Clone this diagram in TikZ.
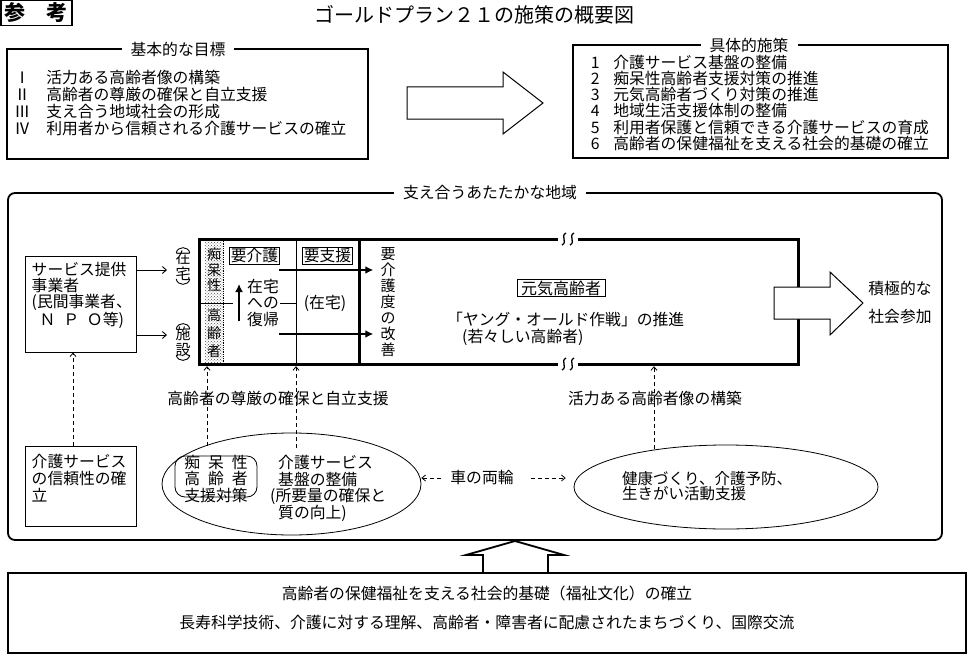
\documentclass[tikz,border=0pt]{standalone}
\usepackage{fontspec}
\setmainfont{Noto Sans CJK JP}
\usepackage{xcolor}
\usepackage{tikz}
\usetikzlibrary{
    shapes.geometric,
    arrows.meta,
    positioning,
    patterns,
    calc
}

\newcommand{\bodyFont}{\fontsize{15.8}{17}\selectfont}
\newcommand{\goalNo}[1]{\makebox[14pt][c]{#1}\hspace{17pt}}
\newcommand{\stepNo}[1]{\makebox[10pt][c]{#1}\hspace{13pt}}
\newcommand{\breakMark}[1]{%
    \draw[line width=1.3pt] ($(#1)+(-2,-6)$) .. controls ($(#1)+(-8,-3)$) and ($(#1)+(0,3)$) .. ($(#1)+(-6,6)$);
    \draw[line width=1.3pt] ($(#1)+(6,-6)$) .. controls ($(#1)+(0,-3)$) and ($(#1)+(8,3)$) .. ($(#1)+(2,6)$);
}
% vertical parentheses round a column of text
\newcommand{\vertParens}[1]{%
    \draw[line width=0.9pt] ($(#1.north west)+(1,4)$) .. controls ($(#1.north west)+(2,-3)$) and ($(#1.north east)+(-2,-3)$) .. ($(#1.north east)+(-1,4)$);
    \draw[line width=0.9pt] ($(#1.south west)+(1,-4)$) .. controls ($(#1.south west)+(2,3)$) and ($(#1.south east)+(-2,3)$) .. ($(#1.south east)+(-1,-4)$);
}

\begin{document}
\begin{tikzpicture}[
    x=1pt, y=-1pt,
    every node/.style={font=\bodyFont},
    frameBox/.style={
        rectangle, draw=black, line width=1.8pt, inner sep=0pt
    },
    plainBox/.style={
        rectangle, draw=black, line width=1pt, inner sep=0pt
    },
    frameTitle/.style={
        fill=white, inner xsep=9pt, inner ysep=0pt
    },
    listText/.style={
        anchor=north west, align=left, inner sep=0pt
    },
    tagBox/.style={
        rectangle, draw=black, line width=0.8pt, inner xsep=1.5pt, inner ysep=1pt
    },
    vertText/.style={
        align=center, inner sep=0pt, font=\fontsize{15}{16}\selectfont
    },
    ringShape/.style={
        ellipse, draw=black, line width=0.8pt, inner sep=0pt
    },
    heavyLine/.style={line width=3pt, line join=miter},
    thinLine/.style={line width=0.9pt},
    thinArrow/.style={-{Straight Barb[length=4pt, width=7pt]}, line width=0.9pt},
    dashArrow/.style={
        -{Straight Barb[length=3.5pt, width=6pt]}, line width=0.8pt,
        dash pattern=on 4pt off 3pt
    },
    boldArrow/.style={-{Latex[length=8pt, width=8pt]}, line width=2.2pt},
    blockArrow/.style={draw=black, fill=white, line width=1pt, line join=miter}
]
    \useasboundingbox (0,0) rectangle (975,661);

    % Heading
    \node[plainBox, line width=1.2pt, minimum width=71pt, minimum height=25pt,
          font=\fontsize{21}{21}\selectfont\bfseries] (sankoBox) at (36.5,13) {参\hspace{1em}考};
    \node[inner sep=0pt, font=\fontsize{20}{20}\selectfont] (mainTitle) at (474,15) {ゴールドプラン２１の施策の概要図};

    % Basic goals
    \node[frameBox, minimum width=361pt, minimum height=110pt] (goalsBox) at (187.5,104) {};
    \node[frameTitle] (goalsTitle) at (178,49) {基本的な目標};
    \node[listText, font=\fontsize{15.8}{17}\selectfont] (goalsList) at ([xshift=9pt, yshift=-22pt]goalsBox.north west) {%
        \goalNo{Ⅰ}活力ある高齢者像の構築\\
        \goalNo{Ⅱ}高齢者の尊厳の確保と自立支援\\
        \goalNo{Ⅲ}支え合う地域社会の形成\\
        \goalNo{Ⅳ}利用者から信頼される介護サービスの確立};

    % Arrow from goals to measures
    \draw[blockArrow] (407,87) -- (503,87) -- (503,72) -- (543,103) -- (503,134) -- (503,119) -- (407,119) -- cycle;

    % Concrete measures
    \node[frameBox, minimum width=375pt, minimum height=113pt] (measuresBox) at (760.5,101.5) {};
    \node[frameTitle] (measuresTitle) at (749,45) {具体的施策};
    \node[listText, font=\fontsize{15.8}{16.1}\selectfont] (measuresList) at ([xshift=18pt, yshift=-11pt]measuresBox.north west) {%
        \stepNo{1}介護サービス基盤の整備\\
        \stepNo{2}痴呆性高齢者支援対策の推進\\
        \stepNo{3}元気高齢者づくり対策の推進\\
        \stepNo{4}地域生活支援体制の整備\\
        \stepNo{5}利用者保護と信頼できる介護サービスの育成\\
        \stepNo{6}高齢者の保健福祉を支える社会的基礎の確立};

    % Community frame
    \node[frameBox, rounded corners=7pt, minimum width=934pt, minimum height=347pt] (regionBox) at (475,366.5) {};
    \node[frameTitle] (regionTitle) at (490,193) {支え合うあたたかな地域};

    % Service providers
    \node[plainBox, minimum width=111pt, minimum height=96pt] (providerBox) at (80.5,304) {};
    \node[listText, font=\fontsize{15.8}{16}\selectfont] (providerText) at ([xshift=7pt, yshift=-7pt]providerBox.north west) {%
        サービス提供\\
        事業者\\
        (民間事業者、\\
        \hspace*{0.5em}Ｎ\hspace{0.5em}Ｐ\hspace{0.5em}Ｏ等)};
    \node[vertText, inner ysep=2pt] (zaitakuV) at (183,266) {在\\宅};
    \node[vertText, inner ysep=2pt] (shisetsuV) at (183,342) {施\\設};
    \vertParens{zaitakuV}
    \vertParens{shisetsuV}
    \coordinate (homeIn) at (167,270);
    \coordinate (facilityIn) at (167,335);
    \draw[thinArrow] (providerBox.east |- homeIn) -- (homeIn);
    \draw[thinArrow] (providerBox.east |- facilityIn) -- (facilityIn);

    % Care level box
    \node[minimum width=599pt, minimum height=125pt, inner sep=0pt] (careBox) at (498.5,301.5) {};
    \fill[pattern=crosshatch dots, pattern color=black!70] (205,239) rectangle (223,364);
    \draw[densely dotted, line width=0.8pt] (223,239) -- (223,364);
    \draw[thinLine] (199,303) -- (233,303);
    \draw[thinLine] (280,303) -- (296,303);
    \draw[thinLine] (296,239) -- (296,364);
    \draw[heavyLine] (359,239) -- (359,364);
    \draw[heavyLine] (558,239) -| (199,364) -- (558,364);
    \draw[heavyLine] (578,239) -| (798,364) -- (578,364);
    \coordinate (breakTop) at (568,239);
    \coordinate (breakBot) at (568,364);
    \breakMark{breakTop}
    \breakMark{breakBot}

    \node[vertText, font=\fontsize{14}{15.5}\selectfont] (dementiaV) at (214,270) {痴\\呆\\性};
    \node[vertText, font=\fontsize{14}{18}\selectfont] (elderV) at (214,333) {高\\齢\\者};
    \node[tagBox] (needCare) at (254.5,256) {要介護};
    \node[tagBox] (needSupport) at (327.5,256) {要支援};
    \node[align=center, inner sep=0pt, font=\fontsize{15.8}{16.5}\selectfont] (returnHome) at (263,303) {在宅\\への\\復帰};
    \node[inner sep=0pt] (homeStay) at (325,303) {(在宅)};
    \node[vertText] (kaizenV) at (388,302) {要\\介\\護\\度\\の\\改\\善};

    \coordinate (careFrom) at (279,270);
    \coordinate (supportFrom) at (279,334);
    \draw[boldArrow, shorten >=7pt] (careFrom) -- (careFrom -| kaizenV.west);
    \draw[boldArrow, shorten >=7pt] (supportFrom) -- (supportFrom -| kaizenV.west);
    \coordinate (returnFoot) at (239,321);
    \coordinate (returnTop) at (239,284);
    \draw[boldArrow, line width=2pt] (returnFoot) -- (returnTop);

    % Active elderly
    \node[tagBox, inner xsep=4pt, font=\fontsize{16}{16}\selectfont] (activeTag) at (561,288) {元気高齢者};
    \node[inner sep=0pt, anchor=west] (youngOld) at (447,319) {「ヤング・オールド作戦」の推進};
    \node[inner sep=0pt, anchor=west] (youngOldSub) at (462,337) {(若々しい高齢者)};

    % Social participation
    \draw[blockArrow] (774,287) -- (830,287) -- (830,272) -- (863,303) -- (830,335) -- (830,319) -- (774,319) -- cycle;
    \node[inner sep=0pt] (positiveWord) at (900,288) {積極的な};
    \node[inner sep=0pt] (joinWord) at (900,317) {社会参加};

    % Labels under the care box
    \node[inner sep=0pt] (dignityLabel) at (278,398) {高齢者の尊厳の確保と自立支援};
    \node[inner sep=0pt] (vitalityLabel) at (655,398) {活力ある高齢者像の構築};

    % Reliability of services
    \node[plainBox, minimum width=111pt, minimum height=80pt] (trustBox) at (80.5,486) {};
    \node[listText, font=\fontsize{15.8}{17}\selectfont] (trustText) at ([xshift=7pt, yshift=-9pt]trustBox.north west) {%
        介護サービス\\
        の信頼性の確\\
        立};

    % Two wheels
    \node[ringShape, minimum width=259pt, minimum height=102pt] (ellLeft) at (291.5,484) {};
    \node[draw, line width=0.8pt, rounded corners=10pt, minimum width=82pt, minimum height=41pt, inner sep=0pt] (dementiaTag) at (216,476.5) {};
    \node[align=center, inner sep=0pt, font=\fontsize{15.8}{16.5}\selectfont] (dementiaText) at (216,479) {%
        痴\hspace{0.5em}呆\hspace{0.5em}性\\
        高\hspace{0.5em}齢\hspace{0.5em}者\\
        支援対策};
    \node[listText, font=\fontsize{15.8}{16.7}\selectfont] (baseText) at (270,455) {%
        \hspace*{8pt}介護サービス\\
        \hspace*{8pt}基盤の整備\\
        (所要量の確保と\\
        \hspace*{8pt}質の向上)};

    \node[ringShape, minimum width=304pt, minimum height=84pt] (ellRight) at (726,487) {};
    \node[listText, font=\fontsize{15.5}{15.5}\selectfont] (healthText) at (622,471) {%
        健康づくり、介護予防、\\
        生きがい活動支援};

    \node[inner sep=0pt] (wheelsLabel) at (482,478) {車の両輪};
    \draw[dashArrow] ([xshift=-9pt]wheelsLabel.west) -- (wheelsLabel.west -| ellLeft.east);
    \draw[dashArrow, shorten >=8pt] ([xshift=17pt]wheelsLabel.east) -- (wheelsLabel.east -| ellRight.west);

    % Dashed links upward
    \coordinate (dementiaFoot) at (207,446);
    \coordinate (baseFoot) at (296,448);
    \coordinate (healthFoot) at (654,449);
    \draw[dashArrow, shorten >=2pt] (dementiaFoot) -- (dementiaFoot |- careBox.south);
    \draw[dashArrow, shorten >=2pt] (baseFoot) -- (baseFoot |- careBox.south);
    \draw[dashArrow, shorten >=2pt] (healthFoot) -- (healthFoot |- careBox.south);
    \draw[dashArrow] ([xshift=-7.5pt]trustBox.north) -- ([xshift=-7.5pt]providerBox.south);

    % Social foundation
    \draw[blockArrow, line width=1.8pt] (483,573) -- (483,555) -- (466,555) -- (515,541) -- (564,555) -- (548,555) -- (548,573);
    \node[frameBox, minimum width=958pt, minimum height=80pt] (foundationBox) at (487,613) {};
    \node[inner sep=0pt] (foundationLine1) at (487,593) {高齢者の保健福祉を支える社会的基礎（福祉文化）の確立};
    \node[inner sep=0pt] (foundationLine2) at (487,622) {長寿科学技術、介護に対する理解、高齢者・障害者に配慮されたまちづくり、国際交流};

\end{tikzpicture}
\end{document}
